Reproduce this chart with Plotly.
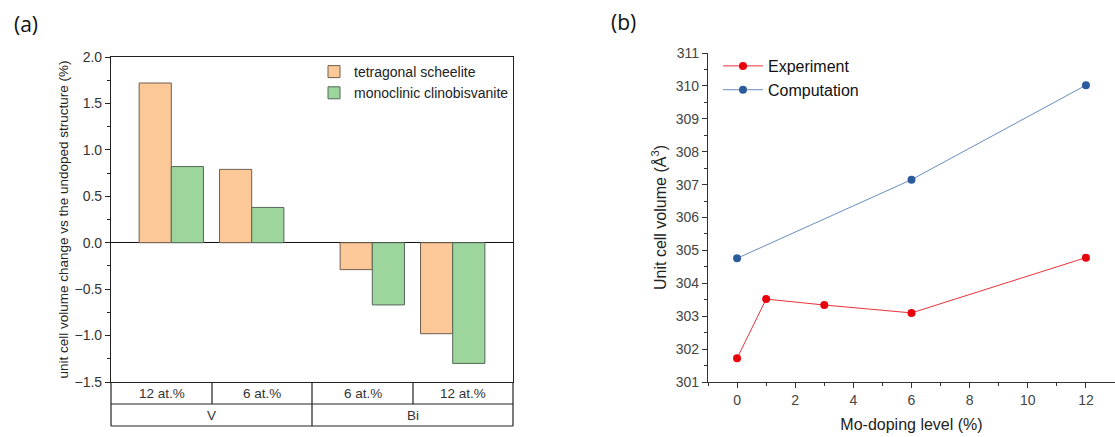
import plotly.graph_objects as go

# ---------------- data ----------------
# panel (a)
bar_positions = [1, 2, 3.5, 4.5]
dopant_levels = ["12 at.%", "6 at.%", "6 at.%", "12 at.%"]
site_groups = ["V", "Bi"]
tetragonal = [1.72, 0.79, -0.29, -0.98]
monoclinic = [0.82, 0.38, -0.67, -1.30]
yticks_a = [-1.5, -1.0, -0.5, 0.0, 0.5, 1.0, 1.5, 2.0]

# panel (b)
exp_x = [0, 1, 3, 6, 12]
exp_y = [301.72, 303.52, 303.34, 303.10, 304.78]
comp_x = [0, 6, 12]
comp_y = [304.76, 307.15, 310.02]

W, H = 1115, 437
def px(x):
    return x / W
def py(y):
    return 1 - y / H

FONT = "Liberation Sans, Arial, sans-serif"
TICKC = "#333333"

fig = go.Figure()

fig.add_trace(go.Bar(
    x=bar_positions, y=tetragonal, name="tetragonal scheelite",
    marker=dict(color="#FDC897", line=dict(color="#6E5E50", width=1)),
    xaxis="x", yaxis="y", legend="legend"))
fig.add_trace(go.Bar(
    x=bar_positions, y=monoclinic, name="monoclinic clinobisvanite",
    marker=dict(color="#9DD69C", line=dict(color="#55665A", width=1)),
    xaxis="x", yaxis="y", legend="legend"))

fig.add_trace(go.Scatter(
    x=exp_x, y=exp_y, name="Experiment", mode="lines+markers",
    line=dict(color="#E8323A", width=1),
    marker=dict(color="#E8000B", size=8),
    xaxis="x2", yaxis="y2", legend="legend2"))
fig.add_trace(go.Scatter(
    x=comp_x, y=comp_y, name="Computation", mode="lines+markers",
    line=dict(color="#6A8DBF", width=1),
    marker=dict(color="#2C5B9C", size=8),
    xaxis="x2", yaxis="y2", legend="legend2"))

# ---------------- layout geometry ----------------
ax_l, ax_r = 111, 513
ax_t, ax_b = 57, 382
tab_r1, tab_r2 = 404, 426

bx_l = 708
bx_t, bx_b = 53, 382

shapes = []
lc = dict(color="#222222", width=1.2)
for (x0, y0, x1, y1) in [
    (ax_l, ax_b, ax_l, tab_r2), (ax_r, ax_b, ax_r, tab_r2),
    (ax_l, tab_r1, ax_r, tab_r1), (ax_l, tab_r2, ax_r, tab_r2),
    (212, ax_b, 212, tab_r1), (413, ax_b, 413, tab_r1),
    (312, ax_b, 312, tab_r2)]:
    shapes.append(dict(type="line", xref="paper", yref="paper",
                       x0=px(x0), y0=py(y0), x1=px(x1), y1=py(y1), line=lc))

annotations = []
cell_centers = [161.5, 262, 362.5, 463]
for lab, cx in zip(dopant_levels, cell_centers):
    annotations.append(dict(text=lab, x=px(cx), y=py(393), xref="paper", yref="paper",
                            xanchor="center", yanchor="middle",
                            showarrow=False, font=dict(family=FONT, size=13.5, color=TICKC)))
for lab, cx in zip(site_groups, [211.5, 413]):
    annotations.append(dict(text=lab, x=px(cx), y=py(415), xref="paper", yref="paper",
                            xanchor="center", yanchor="middle",
                            showarrow=False, font=dict(family=FONT, size=13.5, color=TICKC)))
annotations.append(dict(text="(a)", x=px(26), y=py(24), xref="paper", yref="paper",
                        xanchor="center", yanchor="middle",
                        showarrow=False, font=dict(family="Open Sans, sans-serif", size=21, color="#111")))
annotations.append(dict(text="(b)", x=px(623), y=py(22), xref="paper", yref="paper",
                        xanchor="center", yanchor="middle",
                        showarrow=False, font=dict(family="Open Sans, sans-serif", size=21, color="#111")))

fig.update_layout(
    width=W, height=H,
    margin=dict(l=0, r=0, t=0, b=0),
    paper_bgcolor="white", plot_bgcolor="white",
    barmode="group", bargap=0.2, bargroupgap=0,
    font=dict(family=FONT, color=TICKC),
    shapes=shapes, annotations=annotations,
    xaxis=dict(domain=[px(ax_l), px(ax_r)], range=[0.25, 5.25], automargin=False,
               showticklabels=False, ticks="", showgrid=False, zeroline=False,
               showline=True, linecolor="#222", linewidth=1.2, mirror=True),
    yaxis=dict(domain=[py(ax_b), py(ax_t)], range=[-1.5, 2.0], automargin=False,
               tickvals=yticks_a, ticktext=[f"{v:.1f}".replace("-", "\u2212") for v in yticks_a],
               ticks="outside", ticklen=5, tickwidth=1, tickcolor="#222",
               minor=dict(ticks="outside", ticklen=3, dtick=0.25, tickcolor="#222"),
               showgrid=False, zeroline=True, zerolinecolor="#111", zerolinewidth=1.2,
               showline=True, linecolor="#222", linewidth=1.2, mirror=True,
               tickfont=dict(family=FONT, size=14, color=TICKC),
               title=dict(text="unit cell volume change vs the undoped structure (%)",
                          font=dict(family=FONT, size=13.5, color="#222"), standoff=2)),
    xaxis2=dict(domain=[px(bx_l), 1.0], range=[-1, 13], anchor="y2", automargin=False,
                tickvals=[0, 2, 4, 6, 8, 10, 12],
                ticks="outside", ticklen=5, tickwidth=1, tickcolor="#333",
                minor=dict(ticks="outside", ticklen=3, dtick=1, tickcolor="#333"),
                showgrid=False, zeroline=False,
                showline=True, linecolor="#333", linewidth=1.3,
                tickfont=dict(family=FONT, size=14, color="#444"),
                title=dict(text="Mo-doping level (%)", font=dict(family=FONT, size=16, color="#222"),
                           standoff=11)),
    yaxis2=dict(domain=[py(bx_b), py(bx_t)], range=[301, 311], anchor="x2", automargin=False,
                dtick=1, ticks="outside", ticklen=5, tickwidth=1, tickcolor="#333",
                minor=dict(ticks="outside", ticklen=3, dtick=0.5, tickcolor="#333"),
                showgrid=False, zeroline=False,
                showline=True, linecolor="#333", linewidth=1.3,
                tickfont=dict(family=FONT, size=14, color="#444"),
                title=dict(text="Unit cell volume (Å<sup>3</sup>)",
                           font=dict(family=FONT, size=16, color="#222"), standoff=5)),
    legend=dict(x=px(314), y=py(56), xanchor="left", yanchor="top",
                bgcolor="rgba(0,0,0,0)", font=dict(family=FONT, size=14, color="#222"),
                tracegroupgap=0, traceorder="normal"),
    legend2=dict(x=px(718), y=py(49), xanchor="left", yanchor="top", itemwidth=40,
                 bgcolor="rgba(0,0,0,0)", font=dict(family=FONT, size=16, color="#111"),
                 tracegroupgap=0, traceorder="normal"),
    showlegend=True,
)

fig.write_html("out.html", config={"displayModeBar": False},
               post_script="document.body.style.margin='0px';document.body.style.overflow='hidden';")
